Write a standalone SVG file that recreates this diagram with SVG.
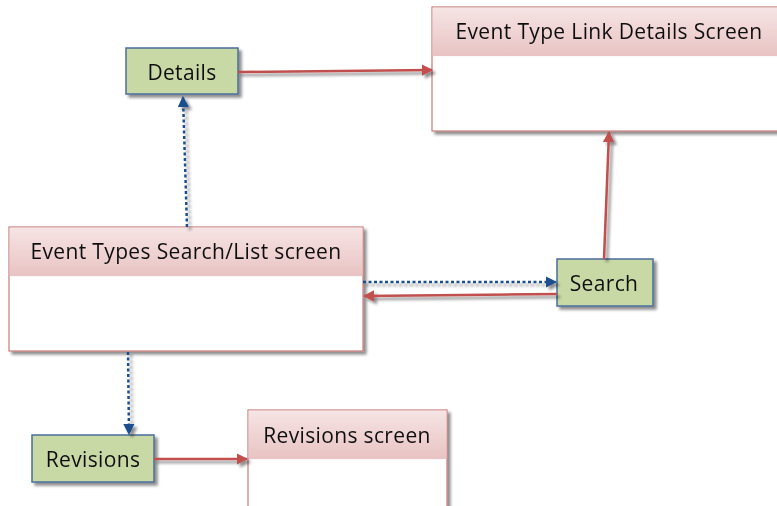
<svg xmlns="http://www.w3.org/2000/svg" width="777" height="506" viewBox="0 0 777 506">
<defs>
<linearGradient id="hdr" x1="0" y1="0" x2="0" y2="1">
<stop offset="0" stop-color="#f6e4e4"/>
<stop offset="1" stop-color="#e9c3c3"/>
</linearGradient>
<filter id="sh" x="-10%" y="-10%" width="130%" height="140%">
<feGaussianBlur in="SourceAlpha" stdDeviation="1.5"/>
<feOffset dx="3" dy="3" result="b"/>
<feComponentTransfer><feFuncA type="linear" slope="0.45"/></feComponentTransfer>
<feMerge><feMergeNode/><feMergeNode in="SourceGraphic"/></feMerge>
</filter>
<marker id="ar" viewBox="0 0 10 10" refX="9" refY="5" markerWidth="4.5" markerHeight="4.5" orient="auto" markerUnits="strokeWidth">
<path d="M0,0 L10,5 L0,10 z" fill="#c0504d"/>
</marker>
<marker id="ab" viewBox="0 0 10 10" refX="9" refY="5" markerWidth="4.5" markerHeight="4.5" orient="auto" markerUnits="strokeWidth">
<path d="M0,0 L10,5 L0,10 z" fill="#1f4e8c"/>
</marker>
</defs>
<style>
.screen{fill:#fff;stroke:#c77b7b;stroke-width:1.2}
.hdr{fill:url(#hdr)}
.act{fill:#c9d9a5;stroke:#4a6d9c;stroke-width:1.5}
text{font-family:"Open Sans","Liberation Sans",sans-serif;fill:#111;text-anchor:middle}
.t{font-size:21px;letter-spacing:0.35px}
.red{stroke:#c0504d;stroke-width:2.5;fill:none;marker-end:url(#ar)}
.blue{stroke:#1f4e8c;stroke-width:2.5;stroke-dasharray:3 2.5;fill:none;marker-end:url(#ab)}
</style>
<rect width="777" height="506" fill="#fff"/>
<g id="link-details-screen" filter="url(#sh)">
<rect class="screen" x="432" y="7" width="350" height="124"/>
<rect class="hdr" x="432.6" y="7.6" width="350" height="48.5"/>
<text class="t" x="609" y="39">Event Type Link Details Screen</text>
</g>
<g id="list-screen" filter="url(#sh)">
<rect class="screen" x="9" y="227" width="354" height="124"/>
<rect class="hdr" x="9.6" y="227.6" width="352.8" height="48.5"/>
<text class="t" x="186" y="259">Event Types Search/List screen</text>
</g>
<g id="revisions-screen" filter="url(#sh)">
<rect class="screen" x="248" y="410" width="199" height="110"/>
<rect class="hdr" x="248.6" y="410.6" width="197.8" height="48.5"/>
<text class="t" x="347" y="443">Revisions screen</text>
</g>
<g id="details" filter="url(#sh)">
<rect class="act" x="126" y="48" width="112" height="46"/>
<text class="t" x="182" y="80">Details</text>
</g>
<g id="search" filter="url(#sh)">
<rect class="act" x="557" y="259" width="96" height="47"/>
<text class="t" x="604" y="291">Search</text>
</g>
<g id="revisions" filter="url(#sh)">
<rect class="act" x="32" y="435" width="122" height="47"/>
<text class="t" x="93" y="467">Revisions</text>
</g>
<g id="connectors" filter="url(#sh)">
<line class="red" x1="238" y1="72" x2="432" y2="70"/>
<line class="red" x1="604" y1="259" x2="609" y2="132"/>
<line class="red" x1="557" y1="294" x2="364" y2="296"/>
<line class="red" x1="154" y1="459" x2="247" y2="459"/>
<line class="blue" x1="187" y1="227" x2="183" y2="97"/>
<line class="blue" x1="363" y1="282" x2="556" y2="282"/>
<line class="blue" x1="128" y1="352" x2="129" y2="434"/>
</g>
</svg>
